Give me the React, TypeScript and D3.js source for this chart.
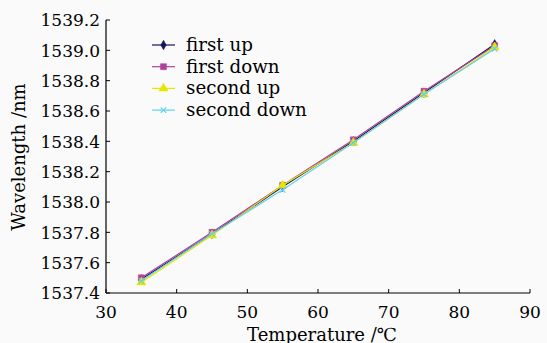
import { useEffect } from "react"
import * as d3 from "d3"

// temperatures (℃)
const temps = [35, 45, 55, 65, 75, 85]

// wavelengths (nm) per run
const firstUp = [1537.49, 1537.79, 1538.1, 1538.4, 1538.72, 1539.04]
const firstDown = [1537.5, 1537.8, 1538.11, 1538.41, 1538.73, 1539.03]
const secondUp = [1537.47, 1537.78, 1538.11, 1538.39, 1538.71, 1539.02]
const secondDown = [1537.48, 1537.79, 1538.08, 1538.39, 1538.71, 1539.01]

const seriesNames = ["first up", "first down", "second up", "second down"]
const xTicks = [30, 40, 50, 60, 70, 80, 90]
const yTicks = [1537.4, 1537.6, 1537.8, 1538.0, 1538.2, 1538.4, 1538.6, 1538.8, 1539.0, 1539.2]

const colors = ["#14145a", "#b0409e", "#e6e600", "#5fd3e6"]
const symbols = [d3.symbolDiamond, d3.symbolSquare, d3.symbolTriangle, d3.symbolX]
const symbolSizes = [26, 36, 36, 22]

const W = 547
const H = 343
const font = "'DejaVu Serif', serif"

export default function App() {
  useEffect(() => {
    document.body.style.margin = "0"
  }, [])

  const x = d3.scaleLinear().domain([30, 90]).range([106, 530])
  const y = d3.scaleLinear().domain([1537.4, 1539.2]).range([293, 20])

  const series = [firstUp, firstDown, secondUp, secondDown]
  const line = d3
    .line<number>()
    .x((_, i) => x(temps[i]))
    .y((d) => y(d))

  return (
    <svg width={W} height={H} style={{ display: "block" }}>
      <rect width={W} height={H} fill="#fafafa" />

      {/* axes */}
      <line x1={x(30)} x2={x(90)} y1={y(1537.4)} y2={y(1537.4)} stroke="#000" strokeWidth={1.2} />
      <line x1={x(30)} x2={x(30)} y1={y(1537.4)} y2={y(1539.2)} stroke="#000" strokeWidth={1.2} />

      {xTicks.map((t) => (
        <g key={t}>
          <line x1={x(t)} x2={x(t)} y1={y(1537.4)} y2={y(1537.4) - 4} stroke="#000" />
          <text x={x(t)} y={318} textAnchor="middle" fontFamily={font} fontSize={17} fill="#000">
            {t}
          </text>
        </g>
      ))}

      {yTicks.map((t) => (
        <g key={t}>
          <line x1={x(30)} x2={x(30) + 4} y1={y(t)} y2={y(t)} stroke="#000" />
          <text x={100} y={y(t) + 6.3} textAnchor="end" fontFamily={font} fontSize={17} fill="#000">
            {t.toFixed(1)}
          </text>
        </g>
      ))}

      <text
        transform={`translate(25,157) rotate(-90)`}
        textAnchor="middle"
        fontFamily={font}
        fontSize={18}
        fill="#000"
      >
        Wavelength /nm
      </text>
      <text x={322} y={341} textAnchor="middle" fontFamily={font} fontSize={18} fill="#000">
        Temperature /℃
      </text>

      {/* series */}
      {series.map((s, si) => (
        <g key={si}>
          <path d={line(s) ?? ""} fill="none" stroke={colors[si]} strokeWidth={1.2} />
          {s.map((v, i) => (
            <path
              key={i}
              transform={`translate(${x(temps[i])},${y(v)})`}
              d={d3.symbol(symbols[si], symbolSizes[si])() ?? ""}
              fill={si === 3 ? "none" : colors[si]}
              stroke={colors[si]}
              strokeWidth={si === 3 ? 1.2 : 0.5}
            />
          ))}
        </g>
      ))}

      {/* legend */}
      {seriesNames.map((name, i) => {
        const ly = 45 + i * 21.7
        return (
          <g key={name}>
            <line x1={152} x2={175} y1={ly} y2={ly} stroke={colors[i]} strokeWidth={1.2} />
            <path
              transform={`translate(163.5,${ly})`}
              d={d3.symbol(symbols[i], symbolSizes[i])() ?? ""}
              fill={i === 3 ? "none" : colors[i]}
              stroke={colors[i]}
              strokeWidth={i === 3 ? 1.2 : 0.5}
            />
            <text x={186} y={ly + 6} fontFamily={font} fontSize={18.3} fill="#000">
              {name}
            </text>
          </g>
        )
      })}
    </svg>
  )
}
